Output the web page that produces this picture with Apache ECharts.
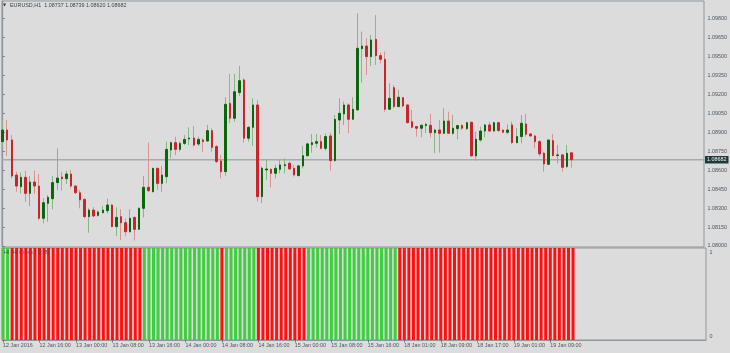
<!DOCTYPE html>
<html>
<head>
<meta charset="utf-8">
<script src="https://cdn.jsdelivr.net/npm/echarts@6/dist/echarts.min.js"></script>
<style>
html,body{margin:0;padding:0;background:#dcdcdc;}
#chart{width:730px;height:353px;}
</style>
</head>
<body>
<div id="chart"></div>
<script>
const symbolName = 'EURUSD,H1';
const indicatorName = 'HI  Hi Cross ( 9)(8)';
const tickBars = [0, 8, 16, 24, 32, 40, 48, 56, 64, 72, 80, 88, 96, 104, 112, 120];
const tickLabels = ['12 Jan 2016', '12 Jan 16:00', '13 Jan 00:00', '13 Jan 08:00', '13 Jan 16:00',
  '14 Jan 00:00', '14 Jan 08:00', '14 Jan 16:00', '15 Jan 00:00', '15 Jan 08:00', '15 Jan 16:00',
  '18 Jan 01:00', '18 Jan 09:00', '18 Jan 17:00', '19 Jan 01:00', '19 Jan 09:00'];
const priceTicks = [1.08000, 1.08150, 1.08300, 1.08450, 1.08600, 1.08750, 1.08900,
  1.09050, 1.09200, 1.09350, 1.09500, 1.09650, 1.09800];

const opens = [
  1.08825, 1.08917, 1.08838, 1.08561, 1.08469, 1.08543, 1.08416, 1.08506, 1.08474, 1.08219,
  1.08337, 1.08374, 1.08501, 1.08545, 1.08532, 1.08569, 1.08474, 1.08421, 1.08369, 1.08232,
  1.08284, 1.08242, 1.08263, 1.08279, 1.08324, 1.08153, 1.08232, 1.08184, 1.08113, 1.08226,
  1.08132, 1.08298, 1.08464, 1.08429, 1.08614, 1.08495, 1.08548, 1.08759, 1.08817, 1.08764,
  1.08811, 1.08846, 1.08854, 1.08806, 1.08838, 1.08830, 1.08912, 1.08786, 1.08672, 1.08588,
  1.09128, 1.09010, 1.09213, 1.09313, 1.08852, 1.08938, 1.09115, 1.08390, 1.08601, 1.08606,
  1.08575, 1.08606, 1.08635, 1.08654, 1.08614, 1.08556, 1.08633, 1.08714, 1.08801, 1.08812,
  1.08825, 1.08772, 1.08870, 1.08675, 1.08996, 1.09044, 1.09115, 1.09002, 1.09076, 1.09560,
  1.09581, 1.09497, 1.09634, 1.09505, 1.09476, 1.09081, 1.09252, 1.09102, 1.09173, 1.09115,
  1.08983, 1.08944, 1.08931, 1.08952, 1.08954, 1.08896, 1.08917, 1.08891, 1.08988, 1.08891,
  1.08928, 1.08952, 1.08928, 1.08978, 1.08712, 1.08838, 1.08909, 1.08957, 1.08909, 1.08975,
  1.08917, 1.08899, 1.08957, 1.08817, 1.08865, 1.08965, 1.08886, 1.08870, 1.08825, 1.08733,
  1.08646, 1.08833, 1.08715, 1.08720, 1.08628, 1.08737];
const highs = [
  1.08991, 1.08996, 1.08877, 1.08587, 1.08580, 1.08595, 1.08553, 1.08595, 1.08569, 1.08377,
  1.08403, 1.08553, 1.08772, 1.08587, 1.08595, 1.08601, 1.08482, 1.08443, 1.08374, 1.08298,
  1.08306, 1.08279, 1.08316, 1.08374, 1.08332, 1.08306, 1.08290, 1.08219, 1.08290, 1.08232,
  1.08306, 1.08553, 1.08817, 1.08619, 1.08619, 1.08632, 1.08825, 1.08825, 1.08864, 1.08825,
  1.08877, 1.08938, 1.08949, 1.08864, 1.08852, 1.08957, 1.08931, 1.08799, 1.08720, 1.09176,
  1.09360, 1.09360, 1.09423, 1.09326, 1.08949, 1.09168, 1.09155, 1.08628, 1.08686, 1.08614,
  1.08641, 1.08680, 1.08693, 1.08667, 1.08641, 1.08641, 1.08791, 1.08817, 1.08886, 1.08886,
  1.08878, 1.08891, 1.08896, 1.09036, 1.09168, 1.09141, 1.09128, 1.09176, 1.09840, 1.09695,
  1.09642, 1.09668, 1.09826, 1.09529, 1.09537, 1.09286, 1.09273, 1.09234, 1.09176, 1.09118,
  1.09075, 1.08949, 1.08962, 1.08975, 1.09044, 1.08928, 1.08996, 1.09089, 1.09062, 1.09036,
  1.08955, 1.08965, 1.08983, 1.08983, 1.08904, 1.08944, 1.08965, 1.08983, 1.08983, 1.08983,
  1.08923, 1.08962, 1.08983, 1.08931, 1.09036, 1.09044, 1.08891, 1.08878, 1.08838, 1.08746,
  1.08838, 1.08886, 1.08799, 1.08728, 1.08799, 1.08739];
const lows = [
  1.08785, 1.08711, 1.08535, 1.08429, 1.08416, 1.08350, 1.08316, 1.08411, 1.08205, 1.08179,
  1.08192, 1.08290, 1.08443, 1.08437, 1.08490, 1.08456, 1.08411, 1.08298, 1.08219, 1.08105,
  1.08227, 1.08232, 1.08258, 1.08258, 1.08147, 1.08079, 1.08047, 1.08079, 1.08105, 1.08042,
  1.08126, 1.08226, 1.08429, 1.08424, 1.08443, 1.08429, 1.08495, 1.08693, 1.08719, 1.08746,
  1.08798, 1.08798, 1.08785, 1.08790, 1.08746, 1.08825, 1.08746, 1.08654, 1.08535, 1.08556,
  1.08970, 1.08983, 1.09186, 1.08817, 1.08825, 1.08791, 1.08351, 1.08338, 1.08522, 1.08464,
  1.08535, 1.08575, 1.08575, 1.08601, 1.08549, 1.08554, 1.08614, 1.08707, 1.08738, 1.08780,
  1.08765, 1.08754, 1.08596, 1.08667, 1.08886, 1.08957, 1.08891, 1.08996, 1.09070, 1.09292,
  1.09352, 1.09423, 1.09431, 1.09444, 1.09062, 1.09076, 1.09089, 1.09097, 1.09097, 1.08970,
  1.08931, 1.08865, 1.08859, 1.08891, 1.08859, 1.08733, 1.08738, 1.08886, 1.08886, 1.08878,
  1.08844, 1.08917, 1.08917, 1.08707, 1.08675, 1.08825, 1.08859, 1.08904, 1.08904, 1.08904,
  1.08891, 1.08883, 1.08807, 1.08812, 1.08812, 1.08865, 1.08865, 1.08772, 1.08707, 1.08588,
  1.08641, 1.08707, 1.08654, 1.08588, 1.08614, 1.08620];
const closes = [
  1.08917, 1.08838, 1.08553, 1.08474, 1.08543, 1.08416, 1.08506, 1.08474, 1.08219, 1.08342,
  1.08385, 1.08501, 1.08537, 1.08532, 1.08569, 1.08474, 1.08421, 1.08364, 1.08232, 1.08284,
  1.08237, 1.08269, 1.08284, 1.08324, 1.08153, 1.08226, 1.08184, 1.08113, 1.08219, 1.08132,
  1.08298, 1.08464, 1.08437, 1.08614, 1.08495, 1.08561, 1.08764, 1.08817, 1.08764, 1.08811,
  1.08843, 1.08854, 1.08798, 1.08843, 1.08825, 1.08912, 1.08780, 1.08667, 1.08588, 1.09120,
  1.09010, 1.09220, 1.09307, 1.08852, 1.08938, 1.09115, 1.08390, 1.08614, 1.08609, 1.08575,
  1.08614, 1.08641, 1.08643, 1.08609, 1.08562, 1.08633, 1.08714, 1.08807, 1.08817, 1.08825,
  1.08772, 1.08865, 1.08675, 1.09002, 1.09049, 1.09115, 1.09002, 1.09081, 1.09563, 1.09581,
  1.09497, 1.09629, 1.09505, 1.09476, 1.09081, 1.09168, 1.09102, 1.09176, 1.09107, 1.08975,
  1.08939, 1.08931, 1.08954, 1.08962, 1.08896, 1.08917, 1.08891, 1.08988, 1.08891, 1.08931,
  1.08952, 1.08931, 1.08975, 1.08712, 1.08844, 1.08909, 1.08957, 1.08909, 1.08975, 1.08912,
  1.08899, 1.08917, 1.08817, 1.08865, 1.08970, 1.08883, 1.08870, 1.08825, 1.08728, 1.08649,
  1.08838, 1.08715, 1.08720, 1.08622, 1.08733, 1.08682];
// indicator state per bar: 1 = green (up), 0 = red (down)
const hlState = [
  1, 1,
  0, 0, 0, 0, 0, 0, 0, 0, 0, 0, 0, 0, 0, 0, 0, 0, 0, 0, 0, 0, 0, 0, 0, 0, 0, 0, 0, 0, 0,
  1, 1, 1, 1, 1, 1, 1, 1, 1, 1, 1, 1, 1, 1, 1, 1, 1,
  0,
  1, 1, 1, 1, 1, 1, 1,
  0, 0, 0, 0, 0, 0, 0, 0, 0, 0, 0,
  1, 1, 1, 1, 1, 1, 1, 1, 1, 1, 1, 1, 1, 1, 1, 1, 1, 1, 1, 1,
  0, 0, 0, 0, 0, 0, 0, 0, 0, 0, 0, 0, 0, 0, 0, 0, 0, 0, 0, 0,
  0, 0, 0, 0, 0, 0, 0, 0, 0, 0, 0, 0, 0, 0, 0, 0, 0, 0, 0];

const BG = '#dcdcdc';
const FRAME = '#8d979e';
const TXT = '#4b5660';
const FS = 5.4;
const FONT = 'Liberation Sans';
const UP = '#0b650b', DOWN = '#c8262c';
const UPW = '#86b586', DOWNW = '#d99292';
const XMIN = -0.153, XMAX = 154.15;
const YMIN = 1.07992, YMAX = 1.09937;
const last = closes.length - 1;

const wickData = opens.map((o, i) => [i, o, closes[i], lows[i], highs[i]]);
const bodyData = opens.map((o, i) => [i, o, closes[i], Math.min(o, closes[i]), Math.max(o, closes[i])]);
const upBars = hlState.map((s, i) => [i, s === 1 ? 1 : null]);
const downBars = hlState.map((s, i) => [i, s === 0 ? 1 : null]);
const priceLine = [[XMIN, closes[last]], [XMAX, closes[last]]];

const chart = echarts.init(document.getElementById('chart'), null, {renderer: 'canvas'});
chart.setOption({
  backgroundColor: BG,
  animation: false,
  textStyle: {fontFamily: FONT},
  grid: [
    {left: 2, right: 24, top: 1, height: 246, show: true, borderColor: FRAME, borderWidth: 1, backgroundColor: 'transparent'},
    {left: 2, right: 24, top: 248, height: 92, show: true, borderColor: FRAME, borderWidth: 1, backgroundColor: 'transparent'}
  ],
  xAxis: [
    {type: 'value', gridIndex: 0, min: XMIN, max: XMAX, show: false},
    {type: 'value', gridIndex: 1, min: XMIN, max: XMAX,
      axisLine: {show: true, onZero: false, lineStyle: {color: FRAME, width: 1}},
      axisTick: {show: true, customValues: tickBars, length: 2.5, lineStyle: {color: '#6e7880'}},
      axisLabel: {show: true, customValues: tickBars, align: 'left', margin: 3.5, fontSize: FS, color: TXT, fontFamily: FONT,
        formatter: v => tickLabels[tickBars.indexOf(Math.round(v))] || ''},
      splitLine: {show: false}}
  ],
  yAxis: [
    {type: 'value', gridIndex: 0, position: 'right', min: YMIN, max: YMAX,
      axisLine: {show: true, lineStyle: {color: FRAME, width: 1.3}},
      axisTick: {show: true, customValues: priceTicks, length: 2, lineStyle: {color: '#6e7880'}},
      axisLabel: {show: true, customValues: priceTicks, margin: 3.5, fontSize: FS, color: TXT, fontFamily: FONT,
        formatter: v => v.toFixed(5)},
      splitLine: {show: false}},
    {type: 'value', gridIndex: 1, position: 'right', min: 0, max: 1,
      axisLine: {show: true, lineStyle: {color: FRAME, width: 1.3}},
      axisTick: {show: true, customValues: [0, 1], length: 2, lineStyle: {color: '#6e7880'}},
      axisLabel: {show: true, customValues: [0, 1], margin: 3.5, fontSize: FS, color: TXT, fontFamily: FONT,
        formatter: v => v >= 0.5 ? '{a|1}' : '{b|0}',
        rich: {a: {fontSize: FS, color: TXT, padding: [9, 0, 0, 0]}, b: {fontSize: FS, color: TXT, padding: [0, 0, 6, 0]}}},
      splitLine: {show: false}}
  ],
  graphic: [
    {type: 'text', left: 3, top: 3.2, silent: true,
      style: {text: '▼', fontSize: 4, fill: '#333', fontFamily: 'DejaVu Sans'}},
    {type: 'text', left: 10, top: 2.8, silent: true,
      style: {text: symbolName + '  ' + opens[last].toFixed(5) + ' ' + highs[last].toFixed(5) + ' ' + lows[last].toFixed(5) + ' ' + closes[last].toFixed(5),
        fontSize: FS, fill: '#3c4248', fontFamily: FONT}},
    {type: 'text', left: 4, top: 250.5, silent: true, z: 10,
      style: {text: indicatorName, fontSize: FS, fill: 'rgba(70,70,70,0.9)', fontFamily: FONT}}
  ],
  series: [
    {type: 'line', name: 'price line', xAxisIndex: 0, yAxisIndex: 0, data: priceLine, z: 1,
      symbol: 'none', silent: true, clip: false,
      lineStyle: {color: '#a4abb1', width: 1.4, type: 'solid'},
      endLabel: {show: true, distance: 1, formatter: closes[last].toFixed(5),
        backgroundColor: '#1e3a3a', color: '#eef2f2', fontSize: FS, fontFamily: FONT, padding: [1.5, 2, 1, 2]}},
    {type: 'candlestick', name: 'wick', xAxisIndex: 0, yAxisIndex: 0, data: wickData, barWidth: 1, z: 2,
      itemStyle: {color: UPW, color0: DOWNW, borderColor: UPW, borderColor0: DOWNW, borderColorDoji: UPW, borderWidth: 1}},
    {type: 'candlestick', name: 'body', xAxisIndex: 0, yAxisIndex: 0, data: bodyData, barWidth: 2, z: 3,
      itemStyle: {color: UP, color0: DOWN, borderColor: UP, borderColor0: DOWN, borderColorDoji: UP, borderWidth: 1}},
    {type: 'bar', name: 'up', xAxisIndex: 1, yAxisIndex: 1, data: upBars, barWidth: 3, barGap: '-100%',
      itemStyle: {color: '#3dcf3d'}},
    {type: 'bar', name: 'down', xAxisIndex: 1, yAxisIndex: 1, data: downBars, barWidth: 3, barGap: '-100%',
      itemStyle: {color: '#ff0f0f'}}
  ]
});
</script>
</body>
</html>
